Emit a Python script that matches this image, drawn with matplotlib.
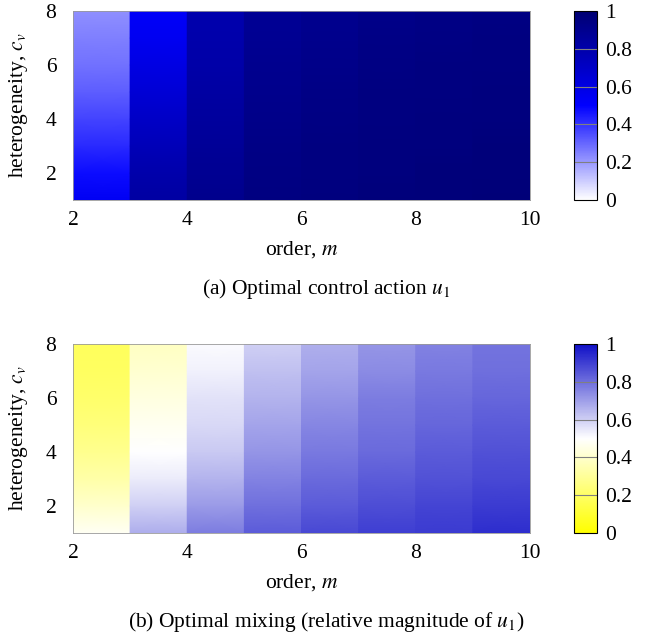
import matplotlib

matplotlib.use("Agg")
import matplotlib.pyplot as plt
import numpy as np
from matplotlib.colors import LinearSegmentedColormap, Normalize
from matplotlib.cm import ScalarMappable

# 数据: 每列 (order m) 在 c_v = 1..8 处的取值
cv_levels = [1, 2, 3, 4, 5, 6, 7, 8]
orders = [2, 3, 4, 5, 6, 7, 8, 9]

# (a) 最优控制 u1
u1 = [
    [0.54, 0.48, 0.42, 0.37, 0.32, 0.28, 0.25, 0.22],
    [0.83, 0.80, 0.75, 0.70, 0.65, 0.60, 0.55, 0.52],
    [0.91, 0.89, 0.87, 0.85, 0.83, 0.81, 0.80, 0.79],
    [0.95, 0.94, 0.93, 0.92, 0.91, 0.90, 0.89, 0.88],
    [0.96, 0.95, 0.95, 0.94, 0.93, 0.92, 0.91, 0.90],
    [0.97, 0.96, 0.96, 0.95, 0.95, 0.94, 0.93, 0.92],
    [0.97, 0.97, 0.96, 0.96, 0.95, 0.95, 0.94, 0.93],
    [0.98, 0.97, 0.97, 0.96, 0.96, 0.95, 0.95, 0.94],
]

# (b) 最优混合 (u1 的相对大小)
mix = [
    [0.48, 0.40, 0.33, 0.28, 0.24, 0.21, 0.19, 0.18],
    [0.67, 0.60, 0.54, 0.50, 0.47, 0.44, 0.41, 0.38],
    [0.77, 0.71, 0.66, 0.61, 0.58, 0.56, 0.53, 0.51],
    [0.84, 0.80, 0.76, 0.72, 0.69, 0.66, 0.63, 0.60],
    [0.88, 0.84, 0.81, 0.78, 0.75, 0.72, 0.69, 0.665],
    [0.90, 0.87, 0.84, 0.81, 0.79, 0.77, 0.74, 0.72],
    [0.91, 0.89, 0.86, 0.84, 0.82, 0.80, 0.78, 0.76],
    [0.935, 0.91, 0.88, 0.86, 0.84, 0.82, 0.80, 0.79],
]

cbar_ticks = [0, 0.2, 0.4, 0.6, 0.8, 1]

plt.rcParams["font.family"] = ["Liberation Serif", "DejaVu Serif"]
plt.rcParams["mathtext.fontset"] = "stix"
plt.rcParams["font.size"] = 15.5

cmap_u1 = LinearSegmentedColormap.from_list(
    "white_blue_navy", [(0.0, (1, 1, 1)), (0.5, (0, 0, 1)), (1.0, (0, 0, 0.45))]
)
cmap_mix = LinearSegmentedColormap.from_list(
    "yellow_white_blue",
    [(0.0, (1, 1, 0)), (0.5, (1, 1, 1)), (1.0, (0.06, 0.06, 0.78))],
)

W, H = 652, 637
fig = plt.figure(figsize=(W / 100, H / 100), dpi=100)

AX_L, AX_R = 73, 530


def px_rect(left, top, right, bottom):
    return [left / W, 1 - bottom / H, (right - left) / W, (bottom - top) / H]


def draw_panel(top, bottom, data, cmap, xlabel_y, caption_y, caption):
    ax = fig.add_axes(px_rect(AX_L, top, AX_R, bottom))
    norm = Normalize(0, 1)
    y = np.array(cv_levels, dtype=float)
    for m, col in zip(orders, data):
        X, Y = np.meshgrid([m, m + 1], y)
        C = np.column_stack([col, col])
        ax.pcolormesh(X, Y, C, cmap=cmap, norm=norm, shading="gouraud")
    ax.set_xlim(2, 10)
    ax.set_ylim(1, 8)
    ax.set_xticks([2, 4, 6, 8, 10])
    ax.set_yticks([2, 4, 6, 8])
    ax.tick_params(axis="x", length=0, pad=8)
    ax.tick_params(axis="y", length=0, pad=12)
    for s in ax.spines.values():
        s.set_color("#999999")
        s.set_linewidth(0.6)
    ax.set_ylabel("heterogeneity, $c_v$")
    ax.set_xlabel("order, $m$")
    h = bottom - top
    ax.xaxis.set_label_coords(0.5, -(xlabel_y - bottom) / h)
    ax.xaxis.label.set_va("center")
    ax.yaxis.set_label_coords((19 - AX_L) / (AX_R - AX_L), 0.5)
    ax.yaxis.label.set_va("center")

    cax = fig.add_axes(px_rect(574, top, 597, bottom))
    cb = fig.colorbar(ScalarMappable(norm=norm, cmap=cmap), cax=cax)
    cb.set_ticks(cbar_ticks)
    cb.set_ticklabels(["0", "0.2", "0.4", "0.6", "0.8", "1"])
    cb.ax.tick_params(length=0, pad=6)
    cb.outline.set_linewidth(0.8)
    for t in cbar_ticks[1:-1]:
        cax.axhline(t, color="#808080", linewidth=0.8)

    fig.text(0.5, 1 - caption_y / H, caption, ha="center", va="center")
    return ax


draw_panel(11, 200, u1, cmap_u1, 250, 289, "(a) Optimal control action $u_1$")
draw_panel(344, 533, mix, cmap_mix, 583, 622,
           "(b) Optimal mixing (relative magnitude of $u_1$)")

fig.savefig("out.png", dpi=100)
plt.close(fig)
